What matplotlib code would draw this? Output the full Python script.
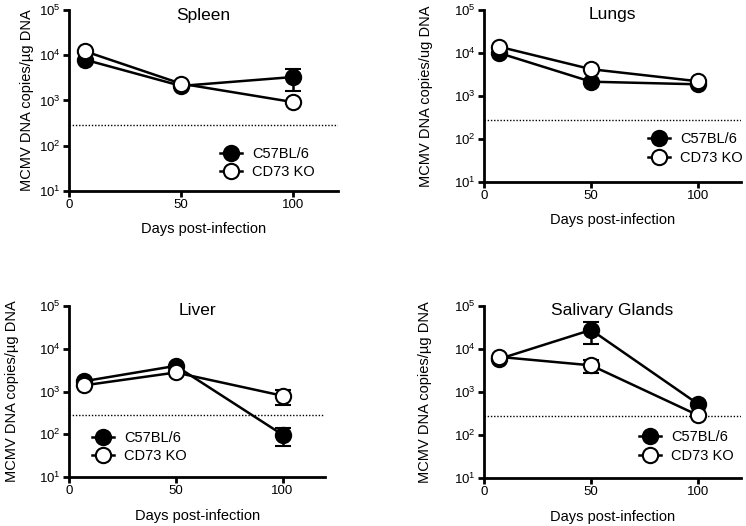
import matplotlib
matplotlib.use("Agg")
import matplotlib.pyplot as plt
from matplotlib.lines import Line2D
import numpy as np

plt.rcParams['font.family'] = ['Liberation Sans', 'DejaVu Sans']
plt.rcParams['mathtext.fontset'] = 'custom'
plt.rcParams['mathtext.rm'] = 'Liberation Sans'
plt.rcParams['mathtext.it'] = 'Liberation Sans:italic'
plt.rcParams['mathtext.bf'] = 'Liberation Sans:bold'

days = [7, 50, 100]
detection_limit = 280

titles = ["Spleen", "Lungs", "Liver", "Salivary Glands"]
ylabels = ["MCMV DNA copies/µg DNA", "MCMV DNA copies/ug DNA",
           "MCMV DNA copies/µg DNA", "MCMV DNA copies/µg DNA"]

b6_spleen = [8000, 2100, 3300]
b6_spleen_err = [0, 0, 1700]
ko_spleen = [12300, 2350, 920]
ko_spleen_err = [0, 0, 0]

b6_lungs = [10000, 2150, 1870]
b6_lungs_err = [0, 0, 0]
ko_lungs = [14000, 4200, 2200]
ko_lungs_err = [0, 0, 0]

b6_liver = [1750, 4000, 98]
b6_liver_err = [0, 0, 46]
ko_liver = [1400, 2800, 800]
ko_liver_err = [0, 0, 320]

b6_sg = [5900, 28000, 530]
b6_sg_err = [0, 15000, 0]
ko_sg = [6600, 4200, 290]
ko_sg_err = [0, 1450, 0]

b6_all = [b6_spleen, b6_lungs, b6_liver, b6_sg]
b6_err_all = [b6_spleen_err, b6_lungs_err, b6_liver_err, b6_sg_err]
ko_all = [ko_spleen, ko_lungs, ko_liver, ko_sg]
ko_err_all = [ko_spleen_err, ko_lungs_err, ko_liver_err, ko_sg_err]

W, H = 746, 526
positions = [
    [0.0925, 0.637, 0.3605, 0.344],
    [0.649, 0.654, 0.344, 0.327],
    [0.0925, 0.093, 0.3435, 0.325],
    [0.649, 0.091, 0.344, 0.327],
]
# legend anchor (left edge of handle, vertical centre), in pixels
legend_px = [(220, 163), (648, 148.5), (92, 447), (639, 446.5)]
ylabel_x = [27 / W, 426 / W, 12 / W, 425 / W]

fig = plt.figure(figsize=(7.46, 5.26), dpi=100)

lw = 1.8
ms = 11
for i in range(4):
    ax = fig.add_axes(positions[i])
    ax.set_yscale('log')
    ax.set_ylim(10, 1e5)
    ax.set_xlim(0, 120)
    ax.axhline(detection_limit, color='black', linestyle=(0, (1, 1.3)), linewidth=1.0, zorder=1)
    ax.errorbar(days, b6_all[i], yerr=b6_err_all[i], color='black', marker='o',
                markersize=ms, markerfacecolor='black', markeredgecolor='black',
                markeredgewidth=1.5, linewidth=lw, capsize=6, capthick=lw, elinewidth=lw,
                zorder=3)
    ax.errorbar(days, ko_all[i], yerr=ko_err_all[i], color='black', marker='o',
                markersize=ms, markerfacecolor='white', markeredgecolor='black',
                markeredgewidth=1.5, linewidth=lw, capsize=6, capthick=lw, elinewidth=lw,
                zorder=4)
    for s in ['top', 'right']:
        ax.spines[s].set_visible(False)
    for s in ['left', 'bottom']:
        ax.spines[s].set_linewidth(2)
    ax.set_xticks([0, 50, 100])
    ax.set_yticks([10, 100, 1000, 1e4, 1e5])
    ax.yaxis.set_minor_locator(matplotlib.ticker.NullLocator())
    ax.tick_params(axis='both', which='major', width=2, length=4, labelsize=9.5,
                   direction='out', pad=2)
    ax.set_xlabel("Days post-infection", fontsize=10.5, labelpad=8)
    ax.set_title(titles[i], fontsize=12.5, y=0.9)
    fig.text(ylabel_x[i], positions[i][1] + positions[i][3] / 2, ylabels[i],
             rotation=90, fontsize=10.5, ha='center', va='center')
    handles = [
        Line2D([], [], color='black', marker='o', markersize=ms, markerfacecolor='black',
               markeredgewidth=1.5, linewidth=lw),
        Line2D([], [], color='black', marker='o', markersize=ms, markerfacecolor='white',
               markeredgewidth=1.5, linewidth=lw),
    ]
    lx, ly = legend_px[i]
    ax.legend(handles, ["C57BL/6", "CD73 KO"], loc='center left',
              bbox_to_anchor=(lx / W, 1 - ly / H), bbox_transform=fig.transFigure,
              frameon=False, fontsize=10.5,
              handlelength=1.5, handletextpad=0.7, labelspacing=0.3, borderpad=0,
              borderaxespad=0)

fig.savefig("out.png", dpi=100)
